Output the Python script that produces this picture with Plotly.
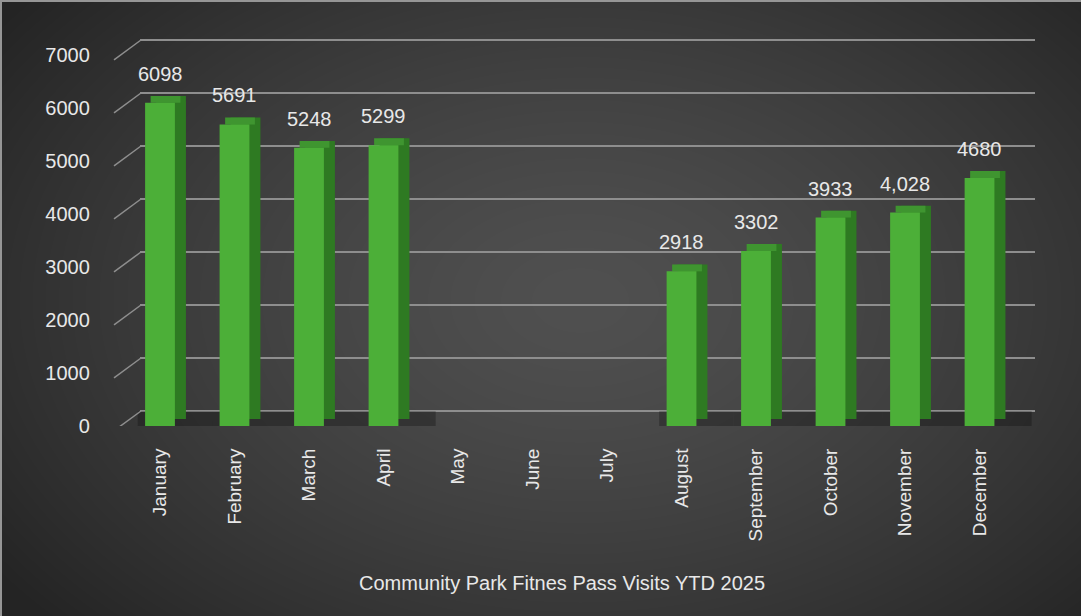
import base64, struct, zlib
import numpy as np
import plotly.graph_objects as go

# ---- data ----
months = ["January", "February", "March", "April", "May", "June", "July",
          "August", "September", "October", "November", "December"]
visits = [6098, 5691, 5248, 5299, None, None, None, 2918, 3302, 3933, 4028, 4680]
value_labels = ["6098", "5691", "5248", "5299", "", "", "", "2918", "3302", "3933", "4,028", "4680"]
y_ticks = [0, 1000, 2000, 3000, 4000, 5000, 6000, 7000]
title_text = "Community Park Fitnes Pass Visits YTD 2025"

W, H = 1081, 616

# ---- background: radial gradient PNG ----
yy, xx = np.mgrid[0:H, 0:W].astype(float)
d = np.sqrt(((xx - 580) / 720.0) ** 2 + ((yy - 300) / 480.0) ** 2)
v = 80 - 44 * np.clip(d, 0, 1) ** 1.4
img = np.clip(np.stack([v, v, v], axis=-1), 0, 255).astype(np.uint8)
img[0:2, :, :] = 150
img[:, 0:2, :] = 150

def to_png(a):
    h, w, _ = a.shape
    raw = b"".join(b"\x00" + a[r].tobytes() for r in range(h))
    def chunk(t, data):
        c = struct.pack(">I", len(data)) + t + data
        return c + struct.pack(">I", zlib.crc32(t + data) & 0xffffffff)
    return (b"\x89PNG\r\n\x1a\n" + chunk(b"IHDR", struct.pack(">IIBBBBB", w, h, 8, 2, 0, 0, 0))
            + chunk(b"IDAT", zlib.compress(raw, 9)) + chunk(b"IEND", b""))

bg_src = "data:image/png;base64," + base64.b64encode(to_png(img)).decode()

# ---- style ----
FONT = "Liberation Sans, Arial, sans-serif"
TXT = "#e8e8e8"
GRID = "#8e8e8e"
depth_x = 0.148          # category units
depth_y = 130            # value units
front_w = 0.40
grid_shift = 283         # value units the back wall sits above the front
px_per_unit = 371 / 7000

y_top = 7350
y_dom = [(616 - 426) / 616, (616 - (426 - y_top * px_per_unit)) / 616]
g_top = 7100
grid_dom = [(616 - 411) / 616, (616 - (411 - g_top * px_per_unit)) / 616]

fig = go.Figure()

# invisible trace to hold the back-wall grid subplot
fig.add_trace(go.Scatter(x=months, y=[vv if vv is not None else 0 for vv in visits],
                         xaxis="x", yaxis="y", mode="lines", opacity=0,
                         line=dict(width=0), hoverinfo="skip", showlegend=False))

present = [vv is not None for vv in visits]
# floor shadow under each bar
fig.add_trace(go.Bar(x=months, y=[300 if p else None for p in present], base=-20,
                     offset=-0.30, width=1.0,
                     marker=dict(color="rgba(10,10,10,0.30)", line=dict(width=0)),
                     xaxis="x2", yaxis="y2", hoverinfo="skip", showlegend=False))
# side face (dark)
fig.add_trace(go.Bar(x=months, y=visits, base=depth_y, offset=-front_w / 2 + depth_x,
                     width=front_w, marker=dict(color="#2e7a22", line=dict(width=0)),
                     xaxis="x2", yaxis="y2", hoverinfo="skip", showlegend=False))
# top face
fig.add_trace(go.Bar(x=months, y=[depth_y if p else None for p in present],
                     base=[vv if vv is not None else 0 for vv in visits],
                     offset=-front_w / 2 + depth_x / 2, width=front_w,
                     marker=dict(color="#3f9530", line=dict(width=0)),
                     xaxis="x2", yaxis="y2", hoverinfo="skip", showlegend=False))
# front face
fig.add_trace(go.Bar(x=months, y=visits, offset=-front_w / 2, width=front_w,
                     marker=dict(color="#4caf38", line=dict(width=0)),
                     xaxis="x2", yaxis="y2", showlegend=False))

for m, vv, lab in zip(months, visits, value_labels):
    if vv is None:
        continue
    fig.add_annotation(x=m, y=vv, xref="x2", yref="y2", text=lab, showarrow=False,
                       yanchor="bottom", yshift=16,
                       font=dict(family=FONT, size=20, color=TXT))

# slanted connectors from the front axis to the back wall
shapes = []
for t in y_ticks:
    shapes.append(dict(type="line", xref="paper", yref="y2",
                       x0=114 / W, x1=141 / W, y0=t - 90, y1=t + grid_shift,
                       line=dict(color=GRID, width=1.5)))

fig.add_annotation(x=562 / W, y=(616 - 583) / 616, xref="paper", yref="paper",
                   text=title_text, showarrow=False, yanchor="middle",
                   font=dict(family=FONT, size=20, color=TXT))

fig.update_layout(
    width=W, height=H,
    margin=dict(l=0, r=0, t=0, b=0),
    paper_bgcolor="#3a3a3a",
    plot_bgcolor="rgba(0,0,0,0)",
    barmode="overlay",
    shapes=shapes,
    images=[dict(source=bg_src, xref="paper", yref="paper", x=0, y=1, sizex=1, sizey=1,
                 sizing="stretch", xanchor="left", yanchor="top", layer="below")],
    xaxis=dict(domain=[140 / W, 1035 / W], anchor="y", type="category",
               categoryarray=months, showticklabels=False, showgrid=False,
               zeroline=False, showline=False, fixedrange=True),
    yaxis=dict(domain=grid_dom, anchor="x", range=[0, g_top], tickvals=y_ticks,
               showticklabels=False, showgrid=True, gridcolor=GRID, gridwidth=1.5,
               zeroline=True, zerolinecolor=GRID, zerolinewidth=1.5,
               showline=False),
    xaxis2=dict(domain=[107.85 / W, 1035.4 / W], anchor="y2", type="category",
                categoryarray=months, range=[-0.7, 11.75], showgrid=False,
                zeroline=False, showline=False, tickangle=-90,
                ticks="outside", ticklen=14, tickcolor="rgba(0,0,0,0)",
                tickfont=dict(family=FONT, size=19, color=TXT), automargin=False),
    yaxis2=dict(domain=y_dom, anchor="x2", range=[0, y_top], tickvals=y_ticks,
                showgrid=False, zeroline=False, showline=False,
                ticks="outside", ticklen=13, tickcolor="rgba(0,0,0,0)",
                tickfont=dict(family=FONT, size=20, color=TXT), automargin=False),
)

fig.write_html("out.html")
